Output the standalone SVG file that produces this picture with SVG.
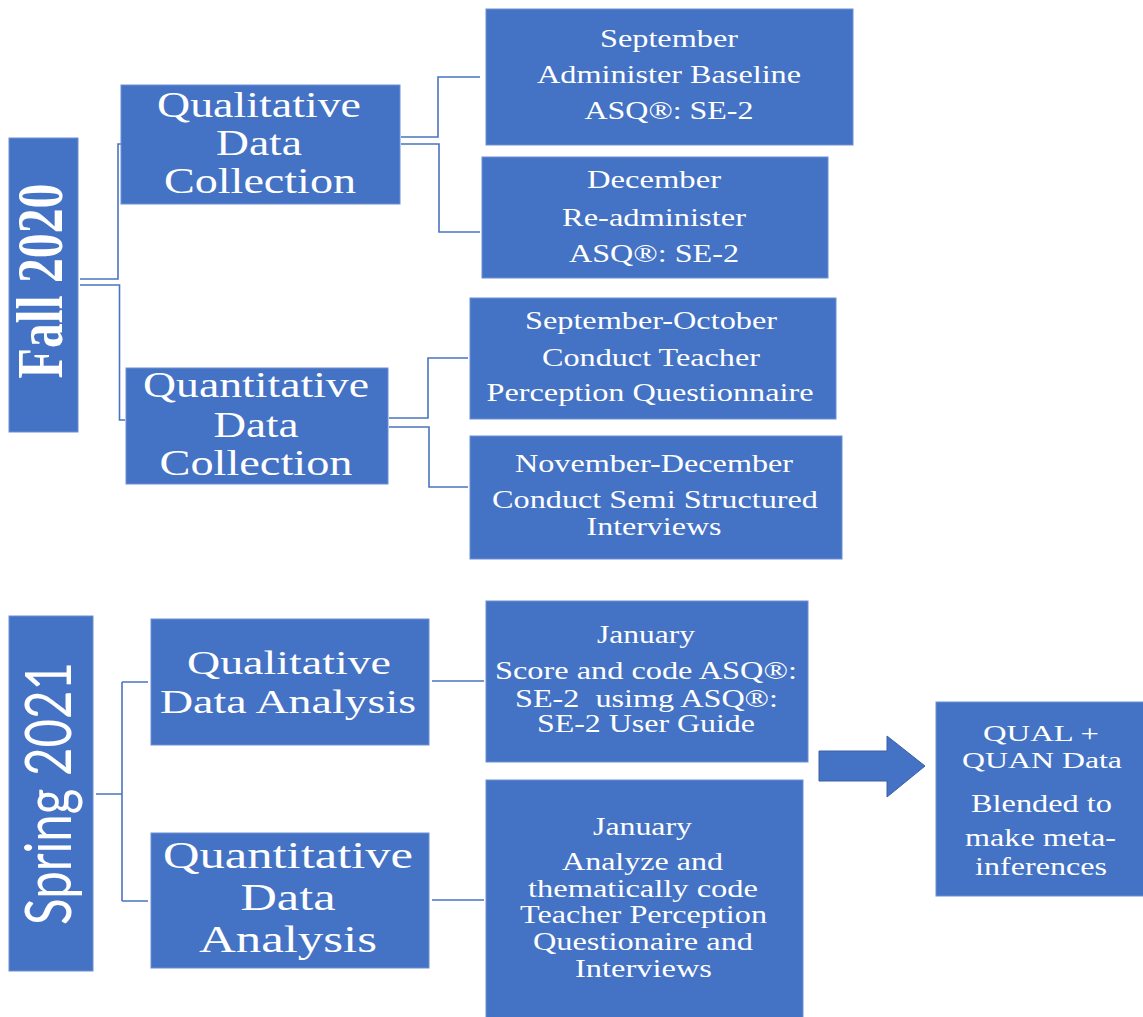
<svg xmlns="http://www.w3.org/2000/svg" width="1143" height="1017" viewBox="0 0 1143 1017">
<style>
.box{fill:#4472C4;stroke:#6d8fd2;stroke-width:1}
.t{fill:#fff;font-family:"Liberation Serif","Times New Roman",serif;text-anchor:middle}
.c{fill:none;stroke:#4a74c0;stroke-width:1.6}
</style>
<rect width="1143" height="1017" fill="#fff"/>
<g id="connectors">
<path class="c" d="M80,279 H118 V144 H121"/>
<path class="c" d="M80,285 H119.5 V420 H125"/>
<path class="c" d="M401,137 H438 V77 H480"/>
<path class="c" d="M401,144 H439 V232 H480"/>
<path class="c" d="M389,418 H428 V358 H468"/>
<path class="c" d="M389,427 H429 V487 H468"/>
<path class="c" d="M96,794 H122 M122,682 V901 M122,682 H148 M122,901 H148"/>
<path class="c" d="M432,681 H484 M432,900 H484"/>
<polygon points="819,751 887,751 887,736 925,766 887,797 887,781 819,781" fill="#4472C4" stroke="#3a5fa6" stroke-width="1"/>
</g>
<g id="fall2020">
<rect class="box" x="9" y="138" width="69" height="294"/>
<text transform="translate(62,281) rotate(-90)" x="0" y="0" font-size="66" font-weight="bold" textLength="195" lengthAdjust="spacingAndGlyphs" class="t">Fall 2020</text>
</g>
<g id="qual-collection">
<rect class="box" x="121" y="85" width="279" height="119"/>
<text class="t" font-size="36"><tspan x="259" y="117" textLength="204" lengthAdjust="spacingAndGlyphs">Qualitative</tspan><tspan x="259" y="155" textLength="86" lengthAdjust="spacingAndGlyphs">Data</tspan><tspan x="260" y="193" textLength="192" lengthAdjust="spacingAndGlyphs">Collection</tspan></text>
</g>
<g id="quan-collection">
<rect class="box" x="126" y="368" width="262" height="116"/>
<text class="t" font-size="36"><tspan x="256" y="397" textLength="226" lengthAdjust="spacingAndGlyphs">Quantitative</tspan><tspan x="256" y="437" textLength="85" lengthAdjust="spacingAndGlyphs">Data</tspan><tspan x="256" y="475" textLength="193" lengthAdjust="spacingAndGlyphs">Collection</tspan></text>
</g>
<g id="september">
<rect class="box" x="486" y="9" width="367" height="136"/>
<text class="t" font-size="26"><tspan x="669" y="47" textLength="138" lengthAdjust="spacingAndGlyphs">September</tspan><tspan x="669" y="83" textLength="264" lengthAdjust="spacingAndGlyphs">Administer Baseline</tspan><tspan x="669" y="119" textLength="169" lengthAdjust="spacingAndGlyphs">ASQ®: SE-2</tspan></text>
</g>
<g id="december">
<rect class="box" x="482" y="157" width="346" height="121"/>
<text class="t" font-size="26"><tspan x="654" y="188" textLength="134" lengthAdjust="spacingAndGlyphs">December</tspan><tspan x="654" y="226" textLength="184" lengthAdjust="spacingAndGlyphs">Re-administer</tspan><tspan x="654" y="262" textLength="170" lengthAdjust="spacingAndGlyphs">ASQ®: SE-2</tspan></text>
</g>
<g id="sep-oct">
<rect class="box" x="470" y="298" width="366" height="121"/>
<text class="t" font-size="25"><tspan x="651" y="329" textLength="252" lengthAdjust="spacingAndGlyphs">September-October</tspan><tspan x="651" y="366" textLength="218" lengthAdjust="spacingAndGlyphs">Conduct Teacher</tspan><tspan x="650" y="401" textLength="327" lengthAdjust="spacingAndGlyphs">Perception Questionnaire</tspan></text>
</g>
<g id="nov-dec">
<rect class="box" x="470" y="436" width="372" height="123"/>
<text class="t" font-size="25"><tspan x="654" y="472" textLength="278" lengthAdjust="spacingAndGlyphs">November-December</tspan><tspan x="655" y="508" textLength="326" lengthAdjust="spacingAndGlyphs">Conduct Semi Structured</tspan><tspan x="654" y="535" textLength="135" lengthAdjust="spacingAndGlyphs">Interviews</tspan></text>
</g>
<g id="spring2021">
<rect class="box" x="9" y="616" width="84" height="355"/>
<text transform="translate(71,793.5) rotate(-90)" x="0" y="0" font-size="64" textLength="263" lengthAdjust="spacingAndGlyphs" style="fill:#fff;font-family:Lato,'Liberation Sans',sans-serif;text-anchor:middle">Spring 2021</text>
</g>
<g id="qual-analysis">
<rect class="box" x="151" y="619" width="278" height="126"/>
<text class="t" font-size="34"><tspan x="289" y="674" textLength="204" lengthAdjust="spacingAndGlyphs">Qualitative</tspan><tspan x="288" y="713" textLength="256" lengthAdjust="spacingAndGlyphs">Data Analysis</tspan></text>
</g>
<g id="quan-analysis">
<rect class="box" x="151" y="833" width="278" height="135"/>
<text class="t" font-size="37"><tspan x="288" y="868" textLength="250" lengthAdjust="spacingAndGlyphs">Quantitative</tspan><tspan x="288" y="910" textLength="95" lengthAdjust="spacingAndGlyphs">Data</tspan><tspan x="288" y="952" textLength="178" lengthAdjust="spacingAndGlyphs">Analysis</tspan></text>
</g>
<g id="january-1">
<rect class="box" x="486" y="601" width="322" height="161"/>
<text class="t" font-size="25"><tspan x="646" y="643" textLength="98" lengthAdjust="spacingAndGlyphs">January</tspan><tspan x="646" y="679" textLength="302" lengthAdjust="spacingAndGlyphs">Score and code ASQ®:</tspan><tspan x="646.5" y="707" textLength="263" lengthAdjust="spacingAndGlyphs" xml:space="preserve">SE-2  usimg ASQ®:</tspan><tspan x="646" y="732" textLength="218" lengthAdjust="spacingAndGlyphs">SE-2 User Guide</tspan></text>
</g>
<g id="january-2">
<rect class="box" x="486" y="780" width="317" height="240"/>
<text class="t" font-size="25"><tspan x="642.5" y="835" textLength="99" lengthAdjust="spacingAndGlyphs">January</tspan><tspan x="642.5" y="870" textLength="161" lengthAdjust="spacingAndGlyphs">Analyze and</tspan><tspan x="643" y="897" textLength="230" lengthAdjust="spacingAndGlyphs">thematically code</tspan><tspan x="643.5" y="923" textLength="247" lengthAdjust="spacingAndGlyphs">Teacher Perception</tspan><tspan x="643" y="950" textLength="220" lengthAdjust="spacingAndGlyphs">Questionaire and</tspan><tspan x="643.5" y="977" textLength="137" lengthAdjust="spacingAndGlyphs">Interviews</tspan></text>
</g>
<g id="blended">
<rect class="box" x="936" y="702" width="210" height="194"/>
<text class="t" font-size="23"><tspan x="1041" y="741" textLength="116" lengthAdjust="spacingAndGlyphs">QUAL +</tspan><tspan x="1042" y="768" textLength="160" lengthAdjust="spacingAndGlyphs">QUAN Data</tspan></text>
<text class="t" font-size="26"><tspan x="1041.5" y="812" textLength="141" lengthAdjust="spacingAndGlyphs">Blended to</tspan><tspan x="1040.5" y="846" textLength="151" lengthAdjust="spacingAndGlyphs">make meta-</tspan><tspan x="1041" y="875" textLength="132" lengthAdjust="spacingAndGlyphs">inferences</tspan></text>
</g>
</svg>
